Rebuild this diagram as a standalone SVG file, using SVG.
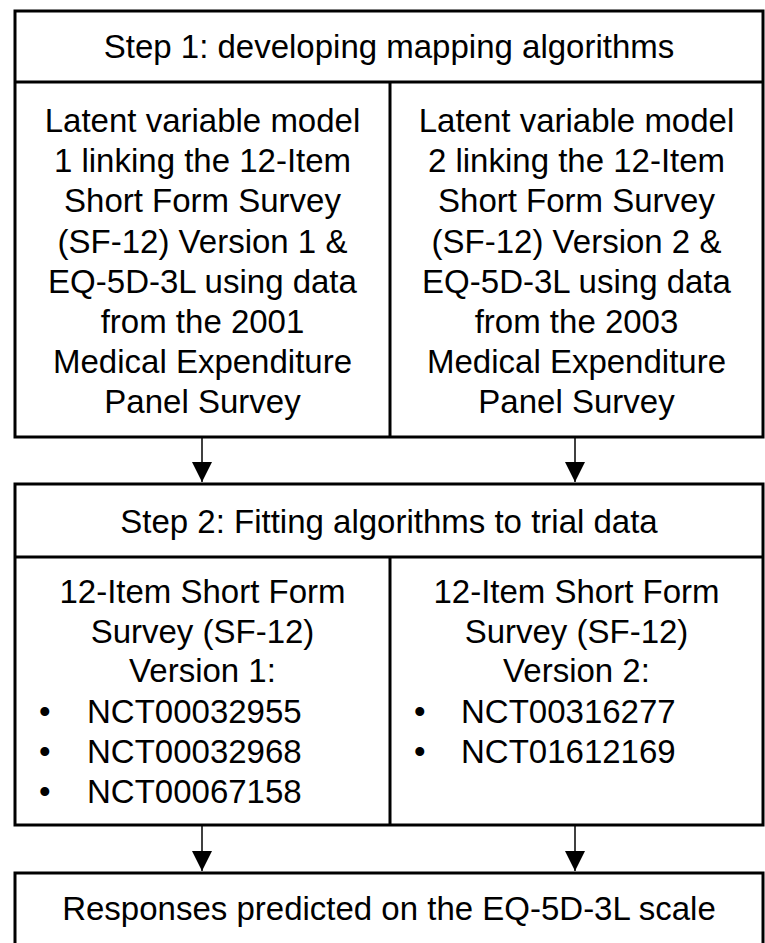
<svg xmlns="http://www.w3.org/2000/svg" width="765" height="943" viewBox="0 0 765 943">
<style>
.box{fill:#fff;stroke:#000;stroke-width:3}
.div{stroke:#000;stroke-width:3;fill:none}
.con{stroke:#000;stroke-width:1.5;fill:none}
text{font-family:"Liberation Sans",Arial,sans-serif;font-size:33px;fill:#000}
.c{text-anchor:middle}
</style>
<defs>
<marker id="ah" viewBox="0 0 20 20" refX="20" refY="10" markerWidth="20" markerHeight="20" markerUnits="userSpaceOnUse" orient="auto">
<path d="M0,0 L20,10 L0,20 Z" fill="#000"/>
</marker>
</defs>
<rect width="765" height="943" fill="#fff"/>
<g id="step1">
<rect class="box" x="15" y="11" width="748" height="426"/>
<line class="div" x1="15" y1="82" x2="763" y2="82"/>
<line class="div" x1="390" y1="82" x2="390" y2="437"/>
<text class="c" x="389" y="58">Step 1: developing mapping algorithms</text>
</g>
<g id="model1">
<text class="c" x="202.5" y="132">Latent variable model</text>
<text class="c" x="202.5" y="172.2">1 linking the 12-Item</text>
<text class="c" x="202.5" y="212.4">Short Form Survey</text>
<text class="c" x="202.5" y="252.6">(SF-12) Version 1 &amp;</text>
<text class="c" x="202.5" y="292.8">EQ-5D-3L using data</text>
<text class="c" x="202.5" y="333">from the 2001</text>
<text class="c" x="202.5" y="373.2">Medical Expenditure</text>
<text class="c" x="202.5" y="413.4">Panel Survey</text>
</g>
<g id="model2">
<text class="c" x="576.5" y="132">Latent variable model</text>
<text class="c" x="576.5" y="172.2">2 linking the 12-Item</text>
<text class="c" x="576.5" y="212.4">Short Form Survey</text>
<text class="c" x="576.5" y="252.6">(SF-12) Version 2 &amp;</text>
<text class="c" x="576.5" y="292.8">EQ-5D-3L using data</text>
<text class="c" x="576.5" y="333">from the 2003</text>
<text class="c" x="576.5" y="373.2">Medical Expenditure</text>
<text class="c" x="576.5" y="413.4">Panel Survey</text>
</g>
<g id="step2">
<rect class="box" x="15" y="484" width="748" height="341"/>
<line class="div" x1="15" y1="557" x2="763" y2="557"/>
<line class="div" x1="390" y1="557" x2="390" y2="825"/>
<text class="c" x="389" y="533">Step 2: Fitting algorithms to trial data</text>
</g>
<g id="trials1">
<text class="c" x="202.5" y="603">12-Item Short Form</text>
<text class="c" x="202.5" y="642.6">Survey (SF-12)</text>
<text class="c" x="202.5" y="682.2">Version 1:</text>
<text x="39" y="723">•</text><text x="87" y="723">NCT00032955</text>
<text x="39" y="763">•</text><text x="87" y="763">NCT00032968</text>
<text x="39" y="803">•</text><text x="87" y="803">NCT00067158</text>
</g>
<g id="trials2">
<text class="c" x="576.5" y="603">12-Item Short Form</text>
<text class="c" x="576.5" y="642.6">Survey (SF-12)</text>
<text class="c" x="576.5" y="682.2">Version 2:</text>
<text x="414" y="723">•</text><text x="461" y="723">NCT00316277</text>
<text x="414" y="763">•</text><text x="461" y="763">NCT01612169</text>
</g>
<g id="result">
<rect class="box" x="15" y="873" width="748" height="90"/>
<text class="c" x="389" y="920">Responses predicted on the EQ-5D-3L scale</text>
</g>
<g id="connectors">
<line class="con" x1="202" y1="438" x2="202" y2="482" marker-end="url(#ah)"/>
<line class="con" x1="575" y1="438" x2="575" y2="482" marker-end="url(#ah)"/>
<line class="con" x1="202" y1="826" x2="202" y2="871" marker-end="url(#ah)"/>
<line class="con" x1="575" y1="826" x2="575" y2="871" marker-end="url(#ah)"/>
</g>
</svg>
